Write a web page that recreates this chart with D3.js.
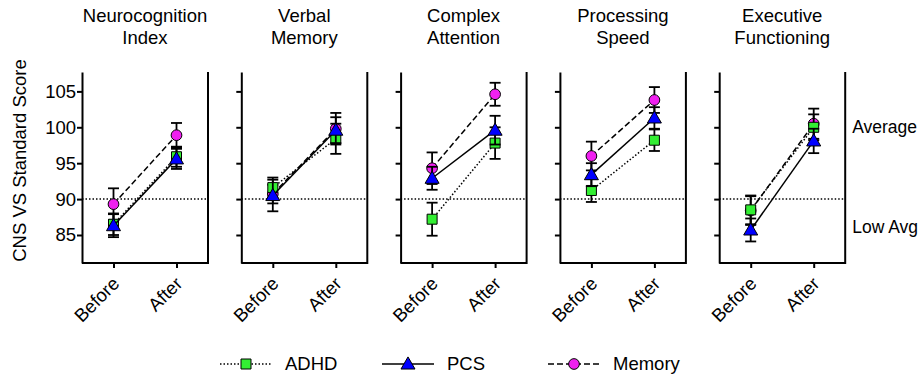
<!DOCTYPE html>
<html>
<head>
<meta charset="utf-8">
<script src="https://cdn.jsdelivr.net/npm/d3@7"></script>
<style>
  body { margin: 0; background: #fff; }
  text { font-family: Arial, "Liberation Sans", sans-serif; fill: #000; }
  .axis path, .axis line { stroke: #000; stroke-width: 2; }
  .axis text { font-size: 18.5px; }
</style>
</head>
<body>
<div id="chart"></div>
<script>
//Datos del gráfico
const titleLines = [['Neurocognition', 'Index'], ['Verbal', 'Memory'], ['Complex', 'Attention'], ['Processing', 'Speed'], ['Executive', 'Functioning']];
const phases = ['Before', 'After'];
const yTicks = [85, 90, 95, 100, 105];

const adhdMean = [[86.5, 95.9], [91.6, 98.4], [87.2, 97.8], [91.2, 98.2], [88.5, 100.0]];
const adhdErr  = [[1.5, 1.4], [1.4, 2.1], [2.3, 2.2], [1.6, 1.5], [2.0, 1.8]];
const pcsMean  = [[86.3, 95.6], [90.5, 99.6], [92.9, 99.6], [93.4, 101.3], [85.7, 98.1]];
const pcsErr   = [[1.6, 1.4], [2.2, 1.8], [1.6, 2.0], [1.6, 1.5], [1.6, 1.7]];
const memMean  = [[89.3, 98.9], [90.7, 99.8], [94.3, 104.6], [96.0, 103.8], [88.4, 100.5]];
const memErr   = [[2.2, 1.7], [1.3, 2.2], [2.2, 1.6], [2.0, 1.8], [2.0, 2.1]];

const refLine = 90;
const sideLabels = [{text: 'Average', value: 100}, {text: 'Low Avg', value: 86.2}];

const COLOR_ADHD = '#33ee33',
COLOR_PCS = '#0000ff',
COLOR_MEM = '#f020f0';

//Series: orden de dibujo (Memory debajo, PCS encima)
const series = [
    {name: 'Memory', mean: memMean, err: memErr, color: COLOR_MEM, dash: '6,3', shape: 'circle'},
    {name: 'ADHD', mean: adhdMean, err: adhdErr, color: COLOR_ADHD, dash: '1.5,2', shape: 'square'},
    {name: 'PCS', mean: pcsMean, err: pcsErr, color: COLOR_PCS, dash: null, shape: 'triangle'}
];
const legendOrder = ['ADHD', 'PCS', 'Memory'];

///Medidas
let width = 921, height = 377;
let panelLeft = 82, panelStep = 159.3, panelW = 126;
let plotTop = 72, plotBottom = 263;
let fontSize = '18.5px';

let svg = d3.select('#chart')
    .append('svg')
    .attr('width', width)
    .attr('height', height);

let y = d3.scaleLinear()
    .domain([81.1, 107.7])
    .range([plotBottom, plotTop]);

let x = d3.scalePoint()
    .domain(phases)
    .range([0, panelW])
    .padding(0.5);

let symbols = {
    circle: d3.symbol().type(d3.symbolCircle).size(90),
    square: d3.symbol().type(d3.symbolSquare).size(100),
    triangle: d3.symbol().type(d3.symbolTriangle).size(85)
};

function drawMarker(g, shape, color, cx, cy) {
    let dy = shape == 'triangle' ? 1 : 0;
    g.append('path')
        .attr('d', symbols[shape]())
        .attr('transform', 'translate(' + cx + ',' + (cy + dy) + ')')
        .attr('fill', color)
        .attr('stroke', '#000')
        .attr('stroke-width', 1);
}

//Eje Y título
svg.append('text')
    .attr('transform', 'translate(26,' + ((plotTop + plotBottom) / 2 - 7) + ') rotate(-90)')
    .attr('text-anchor', 'middle')
    .style('font-size', fontSize)
    .text('CNS VS Standard Score');

titleLines.forEach(function(lines, p) {
    let g = svg.append('g')
        .attr('transform', 'translate(' + (panelLeft + p * panelStep) + ',0)');

    //Título
    g.append('text')
        .attr('x', panelW / 2)
        .attr('y', 22)
        .attr('text-anchor', 'middle')
        .style('font-size', fontSize)
        .selectAll('tspan')
        .data(lines)
        .enter()
        .append('tspan')
        .attr('x', panelW / 2)
        .attr('dy', function(d, i) { return i == 0 ? 0 : 22; })
        .text(function(d) { return d; });

    //Ejes
    g.append('g')
        .attr('class', 'axis')
        .call(d3.axisLeft(y).tickValues(yTicks).tickSize(5).tickSizeOuter(0)
            .tickFormat(p == 0 ? d3.format('d') : function() { return ''; }))
        .call(function(a) { a.selectAll('text').attr('x', -6); });

    let xa = g.append('g')
        .attr('class', 'axis')
        .attr('transform', 'translate(0,' + plotBottom + ')')
        .call(d3.axisBottom(x).tickSize(5).tickSizeOuter(0));
    xa.select('.domain').attr('d', 'M0,0H' + panelW);
    xa.selectAll('text')
        .attr('text-anchor', 'end')
        .attr('x', 0).attr('y', 0)
        .attr('dy', '0.7em').attr('dx', '-0.05em')
        .attr('transform', 'translate(-2,12) rotate(-45)');

    //Borde derecho
    g.append('line')
        .attr('x1', panelW).attr('x2', panelW)
        .attr('y1', plotTop).attr('y2', plotBottom + 1)
        .attr('stroke', '#000').attr('stroke-width', 2);

    //Línea de referencia
    g.append('line')
        .attr('x1', 0).attr('x2', panelW)
        .attr('y1', y(refLine)).attr('y2', y(refLine))
        .attr('stroke', '#000').attr('stroke-width', 1.5)
        .attr('stroke-dasharray', '1.5,2');

    //Series
    series.forEach(function(s) {
        let pts = phases.map(function(ph, i) { return {ph: ph, v: s.mean[p][i], e: s.err[p][i]}; });

        g.append('path')
            .datum(pts)
            .attr('fill', 'none')
            .attr('stroke', '#000')
            .attr('stroke-width', 1.5)
            .attr('stroke-dasharray', s.dash)
            .attr('d', d3.line().x(function(d) { return x(d.ph); }).y(function(d) { return y(d.v); }));

        pts.forEach(function(d) {
            let cx = x(d.ph);
            let eg = g.append('g').attr('stroke', '#000').attr('stroke-width', 1.8);
            eg.append('line').attr('x1', cx).attr('x2', cx).attr('y1', y(d.v - d.e)).attr('y2', y(d.v + d.e));
            eg.append('line').attr('x1', cx - 5.5).attr('x2', cx + 5.5).attr('y1', y(d.v - d.e)).attr('y2', y(d.v - d.e));
            eg.append('line').attr('x1', cx - 5.5).attr('x2', cx + 5.5).attr('y1', y(d.v + d.e)).attr('y2', y(d.v + d.e));
        });

        pts.forEach(function(d) {
            drawMarker(g, s.shape, s.color, x(d.ph), y(d.v));
        });
    });
});

//Etiquetas laterales
let lastX = panelLeft + 4 * panelStep + panelW;
sideLabels.forEach(function(l) {
    svg.append('text')
        .attr('x', lastX + 7)
        .attr('y', y(l.value))
        .attr('dy', '0.35em')
        .style('font-size', '17.5px')
        .text(l.text);
});

//Leyenda
let legendX = [220, 382, 548];
let legendY = 364;
legendOrder.forEach(function(name, i) {
    let s = series.find(function(d) { return d.name == name; });
    let lg = svg.append('g').attr('transform', 'translate(' + legendX[i] + ',' + legendY + ')');
    lg.append('line')
        .attr('x1', 0).attr('x2', 52)
        .attr('stroke', '#000').attr('stroke-width', 1.5)
        .attr('stroke-dasharray', s.dash);
    drawMarker(lg, s.shape, s.color, 26, 0);
    lg.append('text')
        .attr('x', 65)
        .attr('dy', '0.35em')
        .style('font-size', fontSize)
        .text(s.name);
});
</script>
</body>
</html>
